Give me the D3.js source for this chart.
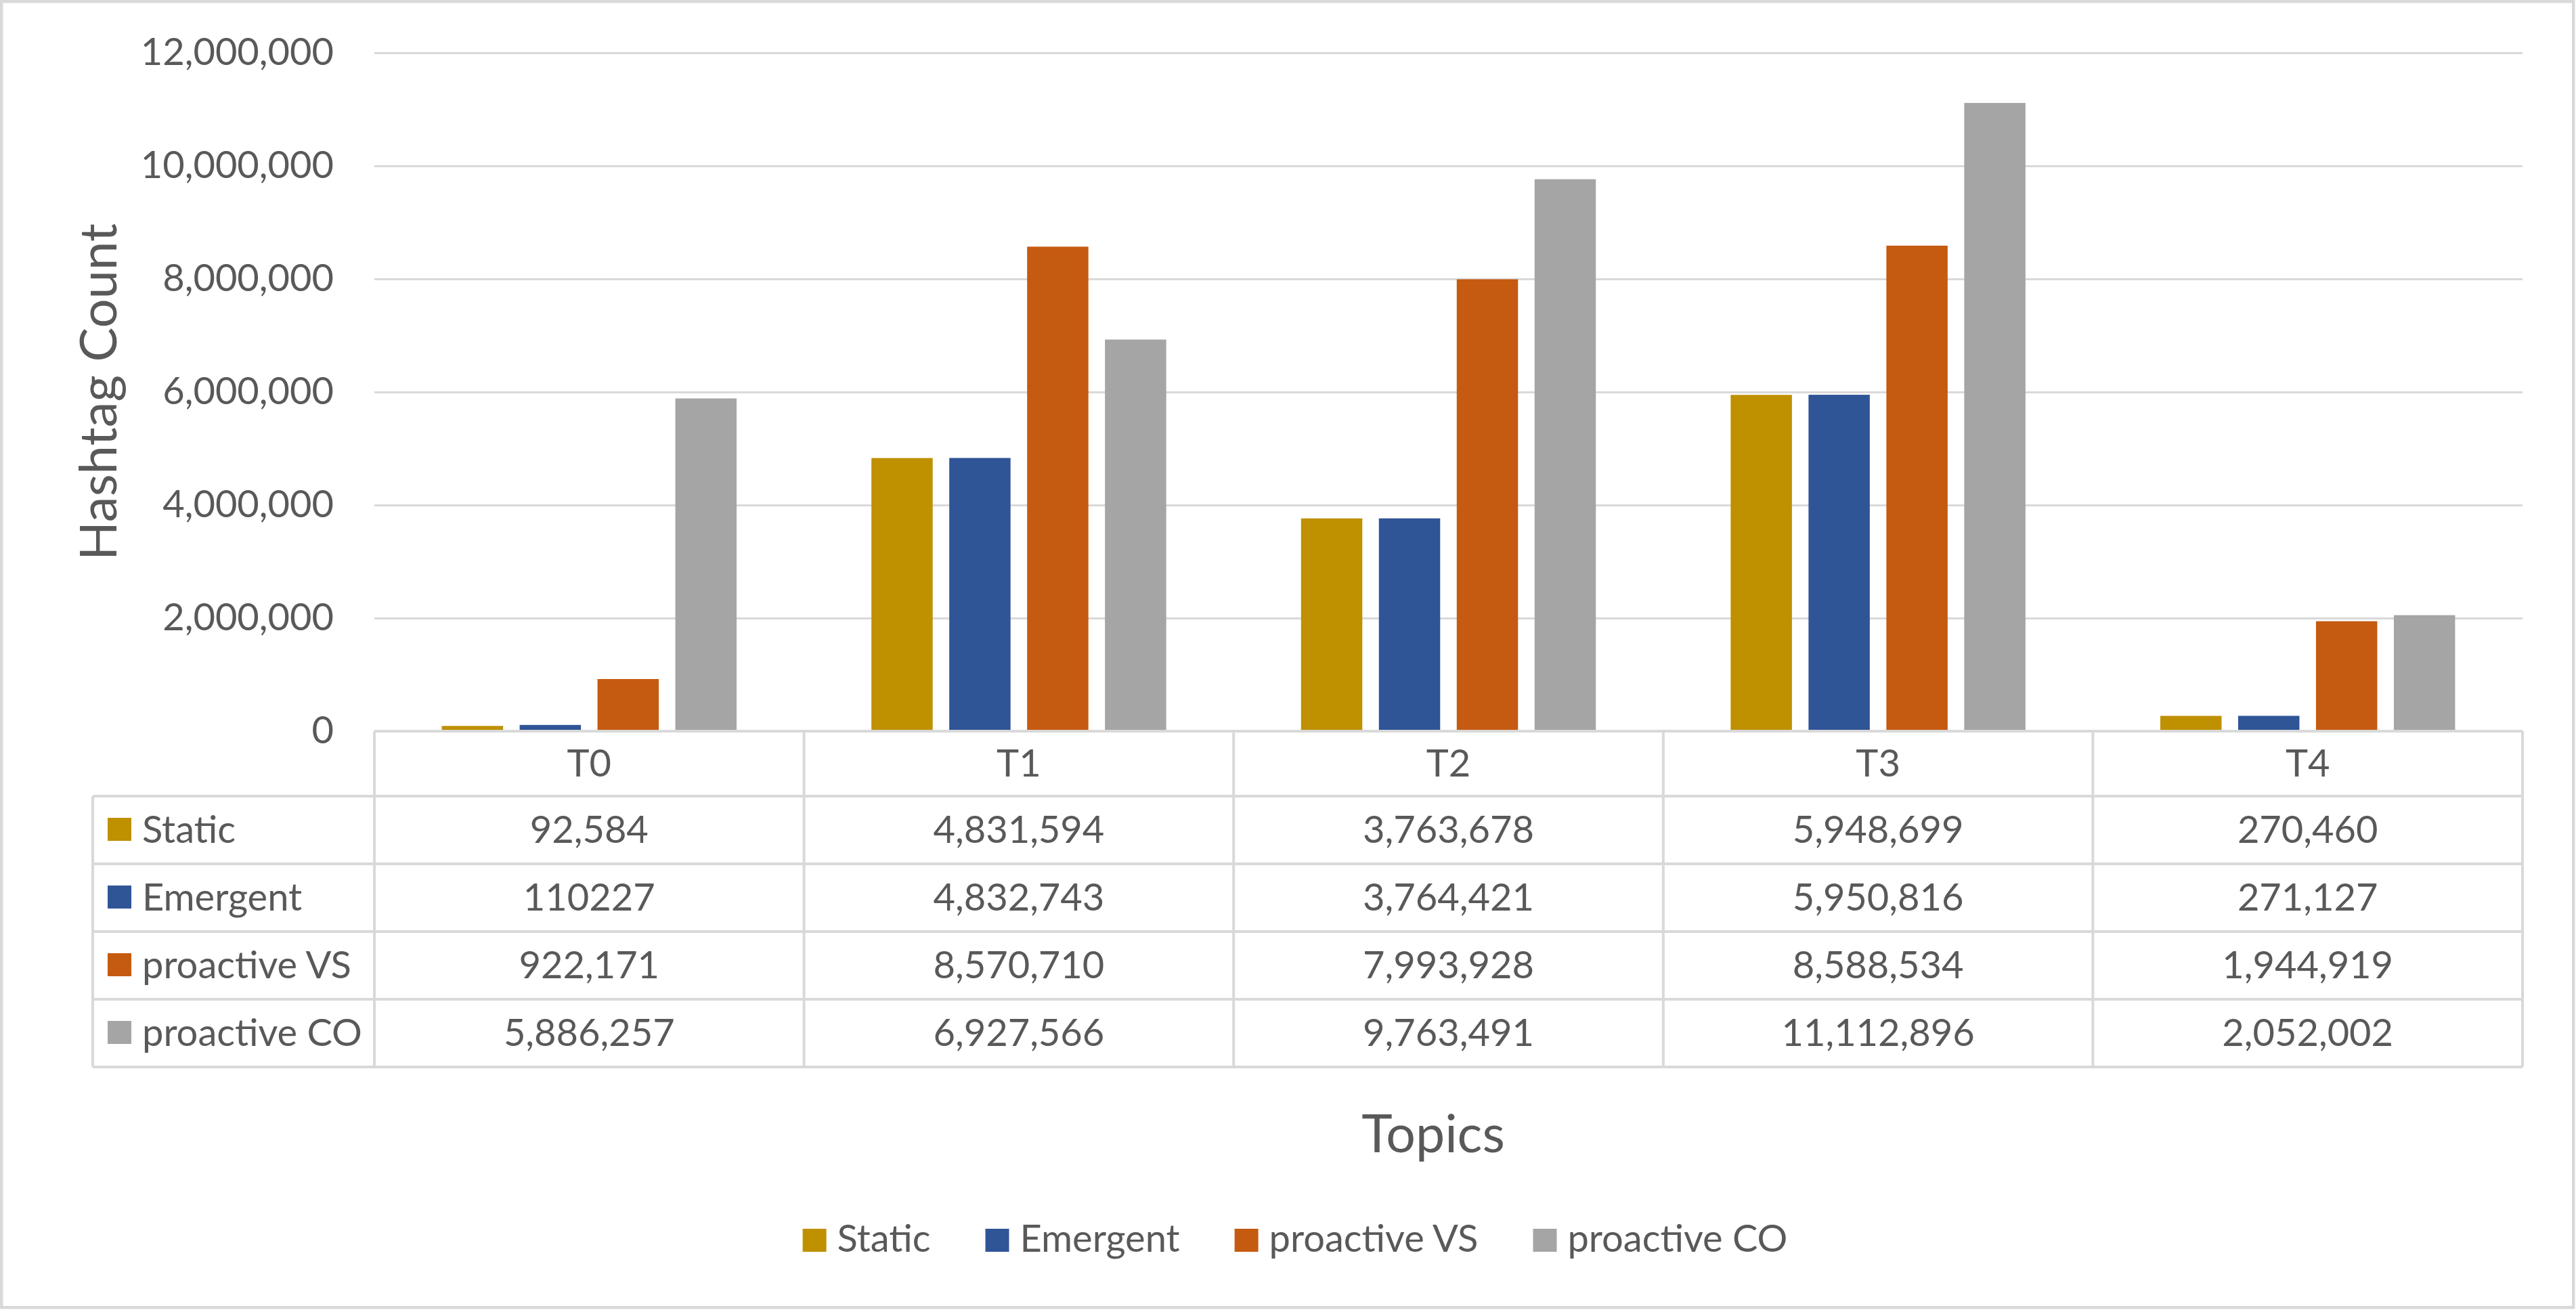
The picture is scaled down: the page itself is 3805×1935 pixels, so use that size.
<!DOCTYPE html>
<html>
<head>
<meta charset="utf-8">
<script src="https://cdn.jsdelivr.net/npm/d3@7"></script>
<style>
  body { margin: 0; background: #fff; }
  svg { display: block; font-family: Lato, "Open Sans", sans-serif; }
</style>
</head>
<body>
<div id="chart"></div>
<script>
// data
const topics = ["T0", "T1", "T2", "T3", "T4"];
const series = ["Static", "Emergent", "proactive VS", "proactive CO"];
const staticVals = [92584, 4831594, 3763678, 5948699, 270460];
const emergentVals = [110227, 4832743, 3764421, 5950816, 271127];
const vsVals = [922171, 8570710, 7993928, 8588534, 1944919];
const coVals = [5886257, 6927566, 9763491, 11112896, 2052002];
// the table prints Emergent T0 without separators, as in the original
const tableText = {
  "Emergent": ["110227", "4,832,743", "3,764,421", "5,950,816", "271,127"]
};
const yTicks = [0, 2000000, 4000000, 6000000, 8000000, 10000000, 12000000];

const colors = ["#BF9000", "#2F5597", "#C55A11", "#A5A5A5"];
const values = [staticVals, emergentVals, vsVals, coVals];

const width = 3805, height = 1935;
const textColor = "#595959", gridColor = "#D9D9D9";
const plot = { left: 553, right: 3726, top: 78, bottom: 1080 };
const tableLeft = 137, rowTop = 1176, rowBottom = 1576;

const svg = d3.select("#chart").append("svg")
  .attr("width", width)
  .attr("height", height);

// outer frame
svg.append("rect")
  .attr("x", 2.25).attr("y", 2.25)
  .attr("width", width - 6).attr("height", height - 6)
  .attr("fill", "#fff")
  .attr("stroke", gridColor)
  .attr("stroke-width", 4.5);

const x0 = d3.scaleBand().domain(topics).range([plot.left, plot.right]);
const x1 = d3.scaleBand().domain(series)
  .range([0, x0.bandwidth()])
  .paddingInner(0.213)
  .paddingOuter(0.866);
const y = d3.scaleLinear().domain([0, 12000000]).range([plot.bottom, plot.top]);
const fmt = d3.format(",");

// y axis with gridlines
const yAxis = svg.append("g")
  .attr("transform", `translate(${plot.left},0)`)
  .call(d3.axisLeft(y).tickValues(yTicks).tickFormat(fmt)
    .tickSize(-(plot.right - plot.left)).tickPadding(60));
yAxis.select(".domain").remove();
yAxis.selectAll(".tick line")
  .attr("stroke", gridColor).attr("stroke-width", 3);
yAxis.selectAll(".tick text")
  .attr("fill", textColor)
  .attr("font-size", 56)
  .attr("font-family", "Lato, sans-serif");

// bars
const groups = svg.append("g").selectAll("g")
  .data(topics)
  .join("g")
  .attr("transform", d => `translate(${x0(d)},0)`);

groups.selectAll("rect")
  .data((t, i) => series.map((s, j) => ({ s, j, v: values[j][i] })))
  .join("rect")
  .attr("x", d => x1(d.s))
  .attr("y", d => y(d.v))
  .attr("width", x1.bandwidth())
  .attr("height", d => y(0) - y(d.v))
  .attr("fill", d => colors[d.j]);

// data table
const rowY = d3.scaleBand().domain(series).range([rowTop, rowBottom]);
const grid = svg.append("g")
  .attr("stroke", gridColor)
  .attr("stroke-width", 4);

// horizontal lines
grid.append("line")
  .attr("x1", plot.left).attr("x2", plot.right)
  .attr("y1", plot.bottom).attr("y2", plot.bottom);
grid.selectAll("line.h")
  .data(series.concat(["end"]))
  .join("line")
  .attr("class", "h")
  .attr("x1", tableLeft).attr("x2", plot.right)
  .attr("y1", d => d === "end" ? rowBottom : rowY(d))
  .attr("y2", d => d === "end" ? rowBottom : rowY(d));
// vertical lines
grid.selectAll("line.v")
  .data(topics.concat(["end"]))
  .join("line")
  .attr("class", "v")
  .attr("x1", d => d === "end" ? plot.right : x0(d))
  .attr("x2", d => d === "end" ? plot.right : x0(d))
  .attr("y1", plot.bottom).attr("y2", rowBottom);
grid.append("line")
  .attr("x1", tableLeft).attr("x2", tableLeft)
  .attr("y1", rowTop).attr("y2", rowBottom);

const txt = svg.append("g")
  .attr("fill", textColor)
  .attr("font-size", 56);

// header labels
txt.selectAll("text.hdr")
  .data(topics)
  .join("text")
  .attr("class", "hdr")
  .attr("x", d => x0(d) + x0.bandwidth() / 2)
  .attr("y", 1147)
  .attr("text-anchor", "middle")
  .text(d => d);

// row labels with swatches
series.forEach((s, j) => {
  const ry = rowY(s);
  svg.append("rect")
    .attr("x", 159).attr("y", ry + 32)
    .attr("width", 35).attr("height", 34)
    .attr("fill", colors[j]);
  txt.append("text")
    .attr("x", 210).attr("y", ry + 69)
    .text(s);
  txt.selectAll(null)
    .data(topics)
    .join("text")
    .attr("x", d => x0(d) + x0.bandwidth() / 2)
    .attr("y", ry + 69)
    .attr("text-anchor", "middle")
    .text((d, i) => tableText[s] ? tableText[s][i] : fmt(values[j][i]));
});

// axis titles
svg.append("text")
  .attr("transform", "translate(172,579) rotate(-90)")
  .attr("text-anchor", "middle")
  .attr("fill", textColor)
  .attr("font-size", 76)
  .text("Hashtag Count");

svg.append("text")
  .attr("x", 2117).attr("y", 1702)
  .attr("text-anchor", "middle")
  .attr("fill", textColor)
  .attr("font-size", 77)
  .text("Topics");

// legend
const legend = svg.append("g");
const items = legend.selectAll("g")
  .data(series)
  .join("g");
items.append("rect")
  .attr("width", 35).attr("height", 34)
  .attr("y", -34)
  .attr("fill", (d, i) => colors[i]);
items.append("text")
  .attr("x", 51)
  .attr("fill", textColor)
  .attr("font-size", 56)
  .text(d => d);

let cx = 0;
items.each(function () {
  const w = 51 + this.querySelector("text").getComputedTextLength();
  d3.select(this).attr("transform", `translate(${cx},0)`);
  cx += w + 81;
});
const legendW = cx - 81;
legend.attr("transform", `translate(${1913 - legendW / 2},1849)`);
</script>
</body>
</html>
